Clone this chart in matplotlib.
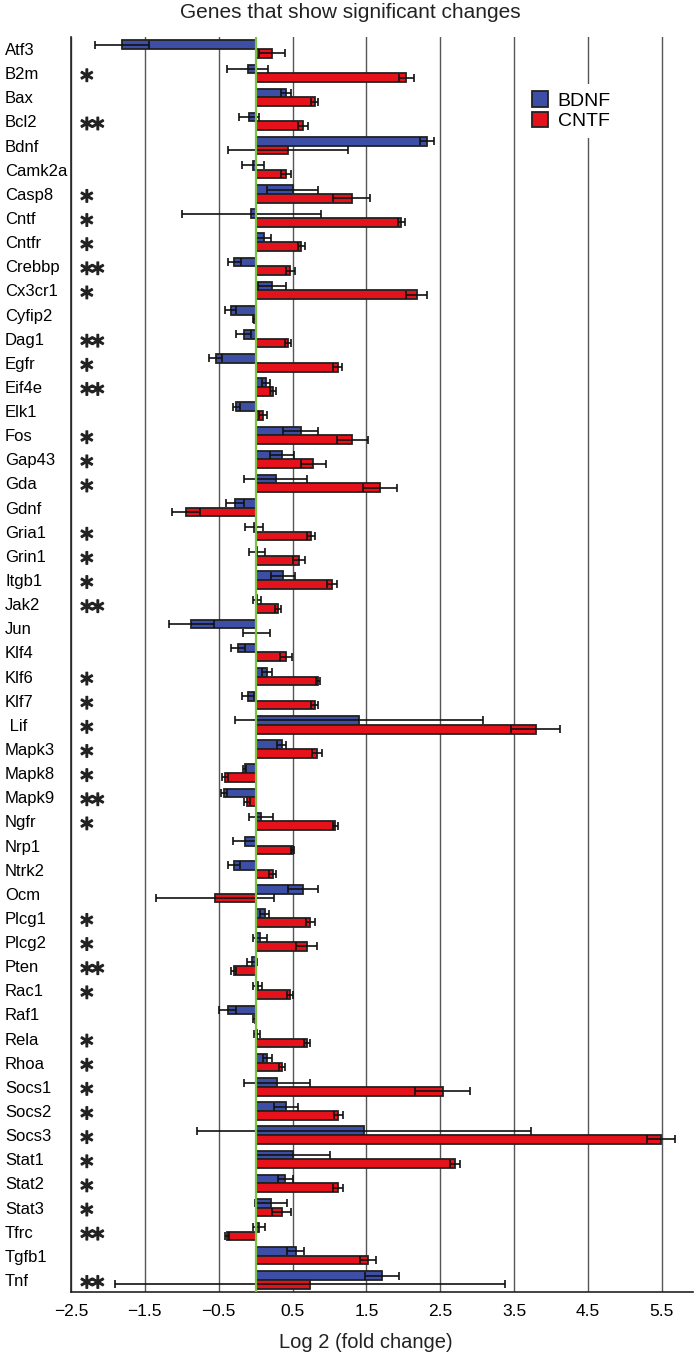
import numpy as np
import matplotlib
matplotlib.use("Agg")
import matplotlib.pyplot as plt
import matplotlib.patheffects as pe
from matplotlib.patches import Patch

plt.rcParams['font.family'] = ['Liberation Sans', 'DejaVu Sans']
plt.rcParams['mathtext.fontset'] = 'dejavusans'

# gene list, top to bottom
genes = ['Atf3', 'B2m', 'Bax', 'Bcl2', 'Bdnf', 'Camk2a', 'Casp8', 'Cntf', 'Cntfr',
         'Crebbp', 'Cx3cr1', 'Cyfip2', 'Dag1', 'Egfr', 'Eif4e', 'Elk1', 'Fos',
         'Gap43', 'Gda', 'Gdnf', 'Gria1', 'Grin1', 'Itgb1', 'Jak2', 'Jun', 'Klf4',
         'Klf6', 'Klf7', ' Lif', 'Mapk3', 'Mapk8', 'Mapk9', 'Ngfr', 'Nrp1', 'Ntrk2',
         'Ocm', 'Plcg1', 'Plcg2', 'Pten', 'Rac1', 'Raf1', 'Rela', 'Rhoa', 'Socs1',
         'Socs2', 'Socs3', 'Stat1', 'Stat2', 'Stat3', 'Tfrc', 'Tgfb1', 'Tnf']

bdnf = [-1.81, -0.11, 0.41, -0.09, 2.32, -0.04, 0.50, -0.06, 0.11, -0.29, 0.22,
        -0.34, -0.16, -0.54, 0.14, -0.26, 0.61, 0.36, 0.27, -0.28, -0.02, 0.02,
        0.37, 0.02, -0.87, -0.24, 0.15, -0.10, 1.40, 0.35, -0.15, -0.43, 0.07,
        -0.15, -0.29, 0.64, 0.12, 0.06, -0.05, 0.03, -0.38, 0.02, 0.16, 0.29,
        0.41, 1.47, 0.50, 0.40, 0.21, 0.05, 0.54, 1.71]
bdnf_err = [0.36, 0.28, 0.07, 0.14, 0.09, 0.15, 0.35, 0.94, 0.10, 0.09, 0.19,
            0.07, 0.10, 0.09, 0.05, 0.05, 0.24, 0.16, 0.43, 0.12, 0.12, 0.11,
            0.16, 0.05, 0.30, 0.09, 0.07, 0.08, 1.68, 0.06, 0.02, 0.04, 0.16,
            0.16, 0.08, 0.20, 0.06, 0.10, 0.07, 0.06, 0.11, 0.04, 0.06, 0.45,
            0.16, 2.26, 0.50, 0.10, 0.22, 0.08, 0.11, 0.23]

cntf = [0.22, 2.04, 0.80, 0.64, 0.44, 0.41, 1.30, 1.97, 0.62, 0.47, 2.18,
        -0.02, 0.44, 1.11, 0.23, 0.10, 1.31, 0.78, 1.68, -0.94, 0.75, 0.59,
        1.03, 0.30, 0.01, 0.41, 0.84, 0.80, 3.79, 0.83, -0.41, -0.12, 1.08,
        0.50, 0.23, -0.55, 0.74, 0.69, -0.30, 0.47, -0.01, 0.69, 0.36, 2.53,
        1.12, 5.49, 2.70, 1.11, 0.35, -0.39, 1.52, 0.74]
cntf_err = [0.18, 0.10, 0.05, 0.07, 0.81, 0.07, 0.25, 0.05, 0.05, 0.06, 0.14,
            0.02, 0.04, 0.06, 0.04, 0.05, 0.21, 0.17, 0.23, 0.19, 0.05, 0.08,
            0.07, 0.04, 0.18, 0.08, 0.03, 0.05, 0.33, 0.07, 0.04, 0.04, 0.04,
            0.02, 0.05, 0.80, 0.06, 0.14, 0.04, 0.04, 0.02, 0.04, 0.04, 0.37,
            0.06, 0.19, 0.07, 0.07, 0.13, 0.03, 0.11, 2.64]

sig = ['', '*', '', '**', '', '', '*', '*', '*', '**', '*', '', '**', '*', '**',
       '', '*', '*', '*', '', '*', '*', '*', '**', '', '', '*', '*', '*', '*',
       '*', '**', '*', '', '', '', '*', '*', '**', '*', '', '*', '*', '*', '*',
       '*', '*', '*', '*', '**', '', '**']

ticks = [-2.5, -1.5, -0.5, 0.5, 1.5, 2.5, 3.5, 4.5, 5.5]
tick_labels = ['\u22122.5', '\u22121.5', '\u22120.5', '0.5', '1.5', '2.5', '3.5', '4.5', '5.5']

blue = '#3c4ea6'
red = '#e5121c'

fig = plt.figure(figsize=(7, 13.59), dpi=100)
ax = fig.add_axes([71 / 700, 1 - 1292 / 1359, (693 - 71) / 700, (1292 - 37) / 1359])

y = np.arange(len(genes))
h = 0.36
ax.barh(y - h / 2, bdnf, height=h, color=blue, edgecolor='#222222', linewidth=1.3, zorder=2)
ax.barh(y + h / 2, cntf, height=h, color=red, edgecolor='#222222', linewidth=1.3, zorder=2)
ax.errorbar(bdnf, y - h / 2, xerr=bdnf_err, fmt='none', ecolor='#111111',
            elinewidth=1.2, capsize=3, capthick=1.2, zorder=3)
ax.errorbar(cntf, y + h / 2, xerr=cntf_err, fmt='none', ecolor='#111111',
            elinewidth=1.2, capsize=3, capthick=1.2, zorder=3)

ax.axvline(0, color='#7cc242', linewidth=1.6, zorder=4)

# significance stars as mathtext (tight box, centred on the row)
for i, s in enumerate(sig):
    if s:
        star = r'$' + r'\!\!\!'.join([r'\ast'] * len(s)) + r'$'
        ax.text(-2.40, i + 0.12, star, ha='left', va='center', fontsize=14.5,
                color='#222222', zorder=5,
                path_effects=[pe.withStroke(linewidth=0.9, foreground='#222222')])

ax.set_xlim(-2.5, 5.92)
ax.set_ylim(len(genes) - 0.5, -0.5)
ax.set_xticks(ticks)
ax.set_xticklabels(tick_labels, fontsize=12.5)
ax.set_yticks(y)
ax.set_yticklabels(genes, fontsize=12, ha='left')
ax.tick_params(axis='y', length=0, pad=47.5)
ax.tick_params(axis='x', length=0, pad=9)
ax.grid(axis='x', color='#555555', linewidth=1.0, zorder=0)
ax.set_axisbelow(True)
for side in ['top', 'right']:
    ax.spines[side].set_visible(False)
ax.spines['left'].set_color('#222222')
ax.spines['bottom'].set_color('#222222')
ax.spines['left'].set_linewidth(1.2)
ax.spines['bottom'].set_linewidth(1.2)

handles = [Patch(facecolor=blue, edgecolor='#222222', linewidth=1.3, label='BDNF'),
           Patch(facecolor=red, edgecolor='#222222', linewidth=1.3, label='CNTF')]
leg = ax.legend(handles=handles, loc='upper left', bbox_to_anchor=(514 / 700, 1 - 74 / 1359),
                bbox_transform=fig.transFigure, fontsize=14, frameon=True, framealpha=1,
                facecolor='white', edgecolor='none', handlelength=0.85, handleheight=0.85,
                handletextpad=0.5, labelspacing=0.1, borderpad=0.4, fancybox=False)
leg.set_zorder(6)

fig.text(0.5, 1 - 13 / 1359, 'Genes that show significant changes', ha='center', va='center',
         fontsize=15, color='#222222')
fig.text(366 / 700, 1 - 1342 / 1359, 'Log 2 (fold change)', ha='center', va='center',
         fontsize=14.5, color='#222222')

fig.savefig('out.png', dpi=100)
